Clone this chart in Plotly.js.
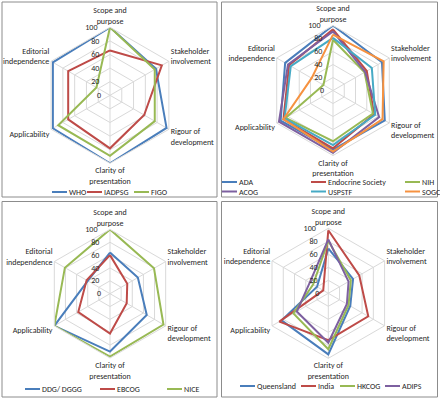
<!DOCTYPE html>
<html><head><meta charset="utf-8">
<script src="https://cdn.plot.ly/plotly-3.0.1.min.js"></script>
<style>html,body{margin:0;padding:0;background:#fff}#chart{width:440px;height:399px}</style>
</head><body><div id="chart"></div>
<script>
// ---------- DATA ----------
const categories = ['Scope and<br>purpose','Stakeholder<br>involvement','Rigour of<br>development','Clarity of<br>presentation','Applicability','Editorial<br>independence'];
const radialTicks = [0, 20, 40, 60, 80, 100];

// Panel 1
const p1Names = ['WHO', 'IADPSG', 'FIGO'];
const who    = [100, 78, 96, 100, 97, 97];
const iadpsg = [66, 88, 58, 78, 71, 71];
const figo   = [100, 76, 76, 89, 88, 23];

// Panel 2
const p2Names = ['ADA', 'Endocrine Society', 'NIH', 'ACOG', 'USPSTF', 'SOGC'];
const ada       = [100, 87, 92, 91, 93, 85];
const endocrine = [94, 60, 73, 89, 88, 78];
const nih       = [78, 56, 71, 78, 84, 17];
const acog      = [91, 57, 82, 96, 96, 80];
const uspstf    = [81, 69, 75, 84, 86, 75];
const sogc      = [86, 90, 88, 94, 88, 38];

// Panel 3
const p3Names = ['DDG/ DGGG', 'EBCOG', 'NICE'];
const ddg   = [64, 50, 66, 90, 100, 40];
const ebcog = [60, 31, 30, 62, 57, 42];
const nice  = [100, 79, 96, 98, 100, 81];

// Panel 4
const p4Names = ['Queensland', 'India', 'HKCOG', 'ADIPS'];
const queensland = [69, 44, 39, 94, 83, 20];
const india      = [97, 55, 71, 72, 87, 9];
const hkcog      = [81, 40, 36, 86, 62, 27];
const adips      = [83, 36, 33, 76, 56, 33];

// ---------- STYLE / LAYOUT ----------
const C = {blue:'#4A7EBB', red:'#BE4B48', green:'#98B954', purple:'#7D60A0', aqua:'#46AAC5', orange:'#F69240'};
const FONT = 'Carlito, Lato, sans-serif';
const TXT = '#262626';
const W = 440, H = 399;
const px = x => x / W;
const py = y => 1 - y / H;
// radial labels sit left of the vertical axis: pad centred labels with no-break spaces
const radialText = radialTicks.map(v => String(v) + '\u00a0'.repeat(String(v).length + 3));

const panels = [
  {sub:'polar',  names:p1Names, series:[who, iadpsg, figo], colors:[C.blue, C.red, C.green]},
  {sub:'polar2', names:p2Names, series:[ada, endocrine, nih, acog, uspstf, sogc], colors:[C.blue, C.red, C.green, C.purple, C.aqua, C.orange]},
  {sub:'polar3', names:p3Names, series:[ddg, ebcog, nice], colors:[C.blue, C.red, C.green]},
  {sub:'polar4', names:p4Names, series:[queensland, india, hkcog, adips], colors:[C.blue, C.red, C.green, C.purple]}
];

const traces = [];
panels.forEach(p => {
  p.series.forEach((vals, i) => {
    traces.push({
      type:'scatterpolar', mode:'lines', subplot:p.sub, name:p.names[i],
      r: vals.concat([vals[0]]), theta: categories.concat([categories[0]]),
      line:{color:p.colors[i], width:2}, showlegend:false, hoverinfo:'skip'
    });
  });
});

function polar(cx, cy, rad) {
  return {
    domain:{x:[px(cx - rad), px(cx + rad)], y:[py(cy + rad), py(cy - rad)]},
    gridshape:'linear', bgcolor:'rgba(0,0,0,0)',
    radialaxis:{range:[0,100], tickvals:radialTicks, ticktext:radialText, angle:90, tickangle:90, side:'counterclockwise',
      showline:false, ticks:'', gridcolor:'#d9d9d9', gridwidth:1,
      tickfont:{family:FONT, size:8, color:TXT}},
    angularaxis:{type:'category', rotation:90, direction:'clockwise', gridcolor:'#d9d9d9', linecolor:'#d9d9d9',
      showline:true, ticks:'', tickfont:{family:FONT, size:8, color:TXT}}
  };
}

const shapes = [];
const annotations = [];
// panel borders
[[2,2,217,197],[221.5,2,437.5,197],[2,201.5,217,397],[221.5,201.5,437.5,397]].forEach(b => {
  shapes.push({type:'rect', xref:'paper', yref:'paper', x0:px(b[0]), x1:px(b[2]), y0:py(b[3]), y1:py(b[1]),
    line:{color:'#8c8c8c', width:1}, layer:'below'});
});
// legends (positions in px)
const legendPos = [
  [[52,192],[87,192],[134,192]],
  [[222,182],[311,182],[405,182],[222,191.5],[311,191.5],[405,191.5]],
  [[25,389],[100,389],[167,389]],
  [[240,386],[301,386],[340,386],[385,386]]
];
panels.forEach((p, k) => {
  p.names.forEach((n, i) => {
    const [x, y] = legendPos[k][i];
    shapes.push({type:'line', xref:'paper', yref:'paper', x0:px(x), x1:px(x + 15), y0:py(y), y1:py(y),
      line:{color:p.colors[i], width:2}});
    annotations.push({xref:'paper', yref:'paper', x:px(x + 16), y:py(y), xanchor:'left', yanchor:'middle',
      text:n, showarrow:false, borderpad:0, font:{family:FONT, size:8, color:TXT}});
  });
});

const layout = {
  width:W, height:H, margin:{l:0, r:0, t:0, b:0},
  paper_bgcolor:'#fff', showlegend:false,
  polar: polar(110, 95.3, 68),
  polar2: polar(333, 90.5, 65),
  polar3: polar(110, 293.7, 64.3),
  polar4: polar(328.3, 293.3, 65),
  shapes, annotations
};
Plotly.newPlot('chart', traces, layout, {displayModeBar:false, staticPlot:true});
</script></body></html>
